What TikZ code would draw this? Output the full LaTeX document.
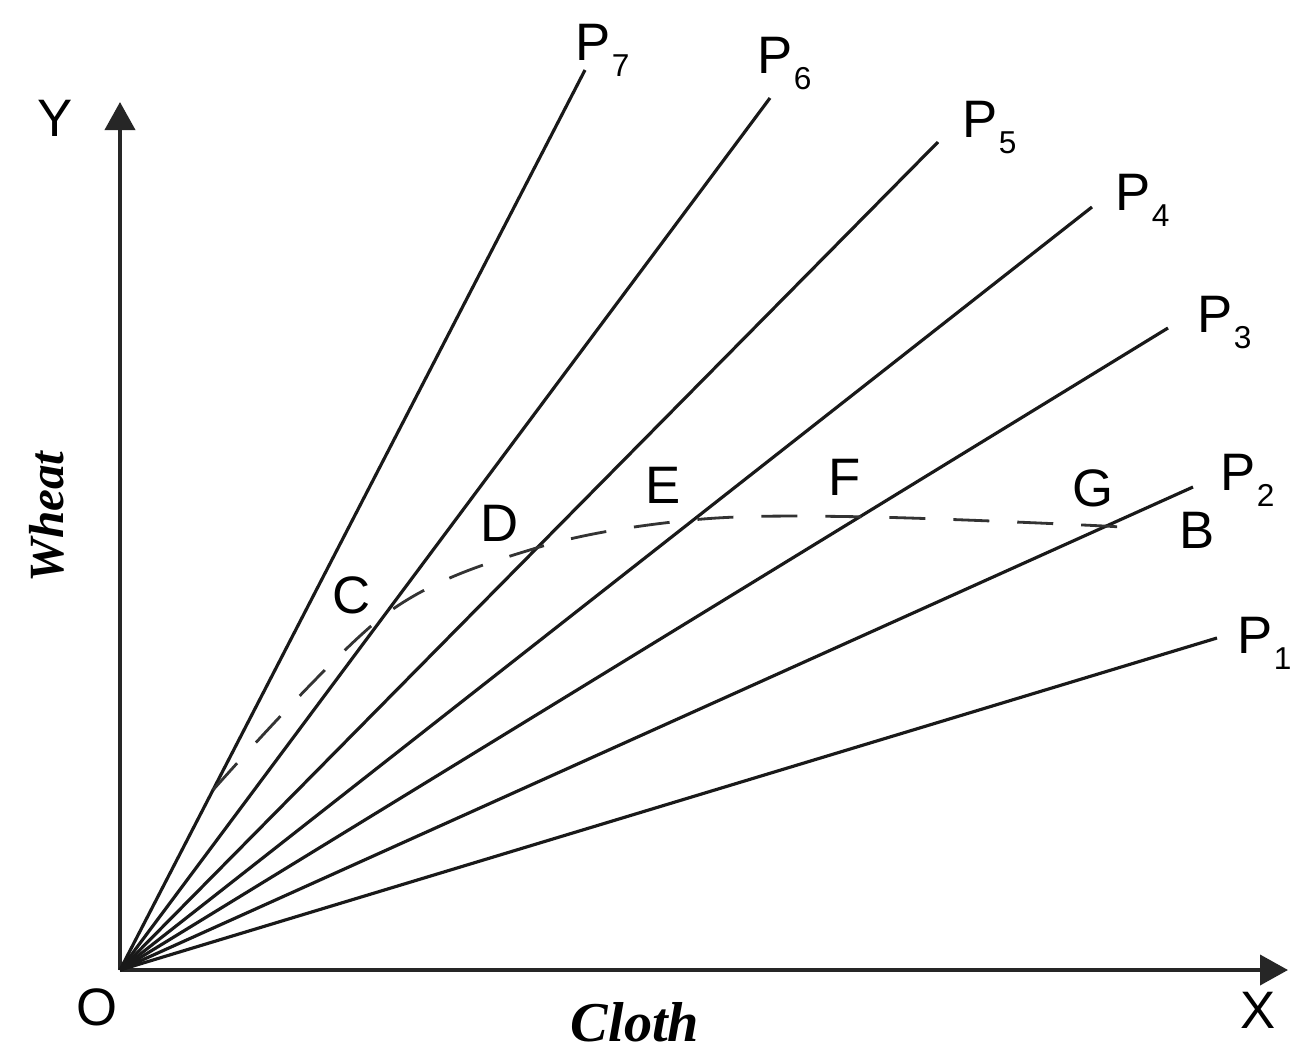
\documentclass[tikz,border=0pt]{standalone}
\usepackage{fontspec}
\setmainfont{Liberation Sans}
\newfontfamily\goodfont{Liberation Serif}
\usetikzlibrary{arrows.meta,calc}
\tikzset{
  axis/.style={line width=1.1pt, draw=black!85, -{Triangle[length=2.8mm, width=3mm]}},
  ray/.style={line width=0.9pt, draw=black!90},
  offer/.style={line width=0.8pt, draw=black!80, dash pattern=on 3.6mm off 2.8mm},
  raylabel/.style={font=\fontsize{15}{18}\selectfont, inner sep=0pt, anchor=base west},
  pointlabel/.style={font=\fontsize{15}{18}\selectfont, inner sep=0pt},
  goodlabel/.style={font=\goodfont\bfseries\itshape\fontsize{16}{19}\selectfont, inner sep=0pt}
}
\newcommand{\rayname}[1]{P\kern0.3pt\raisebox{-0.6ex}{\fontsize{9}{10}\selectfont #1}}

\begin{document}
\begin{tikzpicture}
  \useasboundingbox (-1.20,-0.88) rectangle (11.84,9.70);

  % axes
  \coordinate (O) at (0,0);
  \coordinate (xend) at (11.68,0);
  \coordinate (yend) at (0,8.68);
  \draw[axis] (O) -- (xend);
  \draw[axis] (O) -- (yend);
  \node[pointlabel] (olabel) at (-0.23,-0.37) {O};
  \node[pointlabel] (xlabel) at (11.38,-0.40) {X};
  \node[pointlabel] (ylabel) at (-0.65,8.52) {Y};
  \node[goodlabel] (cloth) at (5.15,-0.52) {Cloth};
  \node[goodlabel, font=\goodfont\bfseries\itshape\fontsize{14}{17}\selectfont, rotate=90] (wheat) at (-0.73,4.53) {Wheat};

  % price lines
  \coordinate (p1) at (10.97,3.32);
  \coordinate (p2) at (10.73,4.83);
  \coordinate (p3) at (10.48,6.42);
  \coordinate (p4) at (9.72,7.63);
  \coordinate (p5) at (8.18,8.28);
  \coordinate (p6) at (6.50,8.72);
  \coordinate (p7) at (4.65,9.00);
  \draw[ray] (O) -- (p1);
  \draw[ray] (O) -- (p2);
  \draw[ray] (O) -- (p3);
  \draw[ray] (O) -- (p4);
  \draw[ray] (O) -- (p5);
  \draw[ray] (O) -- (p6);
  \draw[ray] (O) -- (p7);
  \node[raylabel] (l1) at (11.17,3.17) {\rayname{1}};
  \node[raylabel] (l2) at (11.00,4.80) {\rayname{2}};
  \node[raylabel] (l3) at (10.77,6.38) {\rayname{3}};
  \node[raylabel] (l4) at (9.95,7.60) {\rayname{4}};
  \node[raylabel] (l5) at (8.42,8.33) {\rayname{5}};
  \node[raylabel] (l6) at (6.37,8.97) {\rayname{6}};
  \node[raylabel] (l7) at (4.55,9.10) {\rayname{7}};

  % offer curve
  \coordinate (s) at ($(O)!0.20!(p7)$);
  \coordinate (c) at ($(O)!0.407!(p6)$);
  \coordinate (d) at ($(O)!0.51!(p5)$);
  \coordinate (e) at ($(O)!0.59!(p4)$);
  \coordinate (f) at ($(O)!0.706!(p3)$);
  \coordinate (g) at ($(O)!0.919!(p2)$);
  \coordinate (b) at (10.22,4.39);
  \draw[offer] plot[smooth, tension=0.55] coordinates {(s) (c) (d) (e) (f) (g) (b)};
  \node[pointlabel] (clabel) at (2.32,3.75) {C};
  \node[pointlabel] (dlabel) at (3.80,4.47) {D};
  \node[pointlabel] (elabel) at (5.43,4.85) {E};
  \node[pointlabel] (flabel) at (7.25,4.93) {F};
  \node[pointlabel] (glabel) at (9.73,4.82) {G};
  \node[pointlabel] (blabel) at (10.77,4.40) {B};
\end{tikzpicture}
\end{document}
